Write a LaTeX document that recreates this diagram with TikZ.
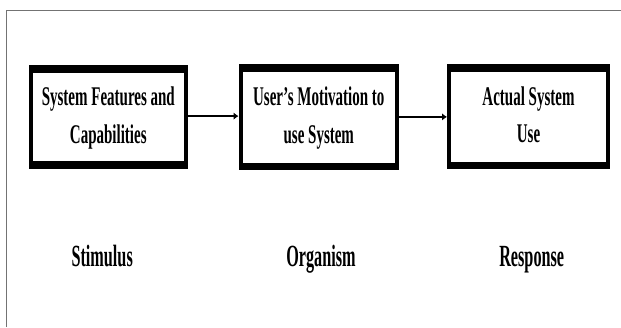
\documentclass[tikz,border=0pt]{standalone}
\usepackage{fontspec}
\setmainfont{Liberation Serif}
\usepackage{graphicx}
\usetikzlibrary{arrows.meta}

% tall, narrow bold lettering used throughout the figure
\newcommand\boxtext[1]{\scalebox{1}[1.8]{\fontsize{15}{21}\selectfont\bfseries\begin{tabular}{@{}c@{}}#1\end{tabular}}}
\newcommand\stagetext[1]{\scalebox{1}[1.9]{\fontsize{16.2}{20}\selectfont\bfseries #1}}

\begin{document}
\begin{tikzpicture}[x=1pt,y=-1pt,
  frame/.style={fill=black, draw=none, inner sep=0pt, outer sep=0pt},
  panel/.style={fill=white, draw=none, inner sep=0pt, outer sep=0pt},
  stage/.style={anchor=base, inner sep=0pt},
  flow/.style={line width=1.6pt, -{Latex[length=5pt,width=7.5pt]}},
  edge/.style={draw=black!55, line width=1.1pt}]

\useasboundingbox (0,0) rectangle (621,327);

% page border (left and top edges only)
\draw[edge] (6.7,327) -- (6.7,10.7) -- (621,10.7);

% heavy black frames
\node[frame, minimum width=158.5pt, minimum height=103.7pt] (f1) at (108.3,116.9) {};
\node[frame, minimum width=160.5pt, minimum height=106pt]   (f2) at (318.8,117.3) {};
\node[frame, minimum width=163pt,   minimum height=105pt]   (f3) at (528.5,116.5) {};

% white panels with the box texts
\node[panel, minimum width=150.5pt, minimum height=88.7pt] (b1) at (f1.center)
  {\boxtext{System Features and\\Capabilities}};
\node[panel, minimum width=152.5pt, minimum height=91pt] (b2) at (f2.center)
  {\boxtext{User’s Motivation to\\use System}};
\node[panel, minimum width=155pt, minimum height=90pt] (b3) at (f3.center)
  {\boxtext{Actual System\\Use}};

% arrows between the stages
\draw[flow] ([yshift=0.8pt]f1.east) -- ([yshift=0.8pt]f1.east -| f2.west);
\draw[flow] ([yshift=0.4pt]f2.east) -- ([yshift=0.4pt]f2.east -| f3.west);

% stage labels
\node[stage] (s1) at (102.2,266.5) {\stagetext{Stimulus}};
\node[stage] (s2) at (321,266.5)   {\stagetext{Organism}};
\node[stage] (s3) at (531.7,266.5) {\stagetext{Response}};
\end{tikzpicture}
\end{document}
